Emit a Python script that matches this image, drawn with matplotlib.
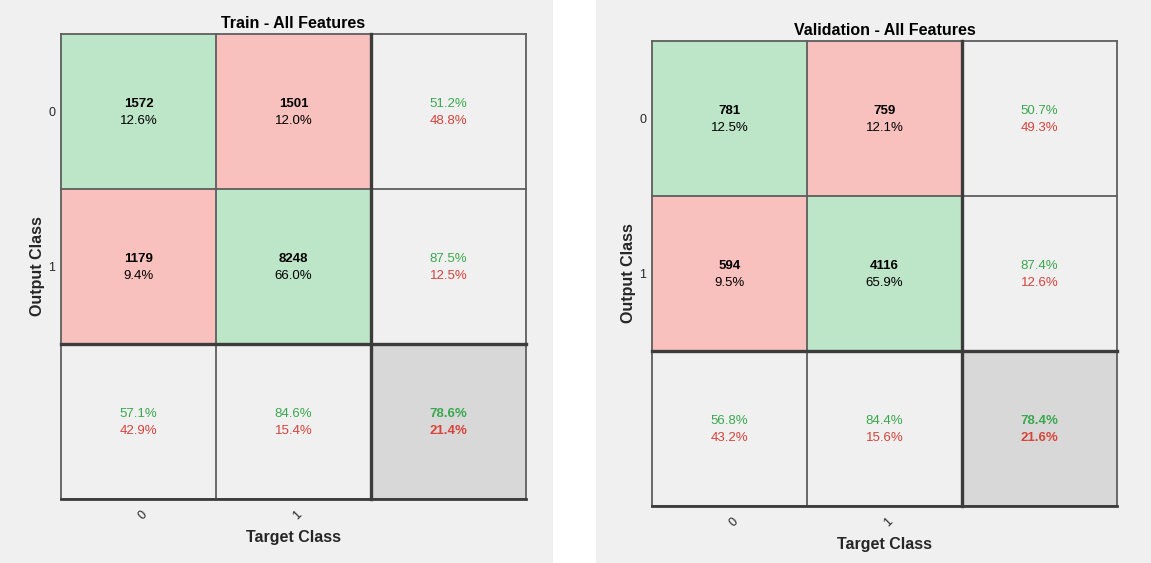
import matplotlib
matplotlib.use("Agg")
import matplotlib.pyplot as plt
from matplotlib.patches import Rectangle
from matplotlib.transforms import ScaledTranslation

plt.rcParams['font.family'] = ['Liberation Sans', 'DejaVu Sans']

class_labels = ["0", "1"]

train_title = "Train - All Features"
train_counts = [[1572, 1501], [1179, 8248]]
train_cell_pct = [["12.6%", "12.0%"], ["9.4%", "66.0%"]]
train_row_pct = [["51.2%", "48.8%"], ["87.5%", "12.5%"]]
train_col_pct = [["57.1%", "42.9%"], ["84.6%", "15.4%"]]
train_total_pct = ["78.6%", "21.4%"]

val_title = "Validation - All Features"
val_counts = [[781, 759], [594, 4116]]
val_cell_pct = [["12.5%", "12.1%"], ["9.5%", "65.9%"]]
val_row_pct = [["50.7%", "49.3%"], ["87.4%", "12.6%"]]
val_col_pct = [["56.8%", "43.2%"], ["84.4%", "15.6%"]]
val_total_pct = ["78.4%", "21.6%"]

W, H = 1151, 563
fig = plt.figure(figsize=(W / 100, H / 100), dpi=100)
fig.patch.set_facecolor("white")

BG = "#f0f0f0"
GREEN_FILL = "#bde5c8"
RED_FILL = "#f8c1be"
TOTAL_FILL = "#d8d8d8"
GREEN_TXT = "#3aa84e"
RED_TXT = "#d8433b"
THIN = "#5e5e5e"
THICK = "#3c3c3c"
CELL_FS = 9.5

# panel backgrounds
fig.patches.append(Rectangle((0, 0), 553 / W, 1, transform=fig.transFigure,
                             facecolor=BG, edgecolor="none", zorder=-10))
fig.patches.append(Rectangle((596 / W, 0), (W - 596) / W, 1, transform=fig.transFigure,
                             facecolor=BG, edgecolor="none", zorder=-10))


def draw(left, top, size, title, counts, cell_pct, row_pct, col_pct, total_pct):
    ax = fig.add_axes([left / W, 1 - (top + size) / H, size / W, size / H])
    ax.set_xlim(0, 3)
    ax.set_ylim(3, 0)
    ax.set_facecolor(BG)
    for s in ax.spines.values():
        s.set_visible(False)
    n = len(counts)
    d1, d2 = 0.05, 0.06
    for i in range(n):
        for j in range(n):
            fc = GREEN_FILL if i == j else RED_FILL
            ax.add_patch(Rectangle((j, i), 1, 1, facecolor=fc, edgecolor="none"))
            ax.text(j + 0.5, i + 0.5 - d1, str(counts[i][j]), ha="center", va="center",
                    fontsize=CELL_FS, fontweight="bold", color="black")
            ax.text(j + 0.5, i + 0.5 + d2, cell_pct[i][j], ha="center", va="center",
                    fontsize=CELL_FS, color="black")
        ax.text(n + 0.5, i + 0.5 - d1, row_pct[i][0], ha="center", va="center",
                fontsize=CELL_FS, color=GREEN_TXT)
        ax.text(n + 0.5, i + 0.5 + d2, row_pct[i][1], ha="center", va="center",
                fontsize=CELL_FS, color=RED_TXT)
        ax.text(i + 0.5, n + 0.5 - d1, col_pct[i][0], ha="center", va="center",
                fontsize=CELL_FS, color=GREEN_TXT)
        ax.text(i + 0.5, n + 0.5 + d2, col_pct[i][1], ha="center", va="center",
                fontsize=CELL_FS, color=RED_TXT)
    ax.add_patch(Rectangle((n, n), 1, 1, facecolor=TOTAL_FILL, edgecolor="none"))
    ax.text(n + 0.5, n + 0.5 - d1, total_pct[0], ha="center", va="center",
            fontsize=CELL_FS, fontweight="bold", color=GREEN_TXT)
    ax.text(n + 0.5, n + 0.5 + d2, total_pct[1], ha="center", va="center",
            fontsize=CELL_FS, fontweight="bold", color=RED_TXT)

    # grid lines
    for k in [0, 1, 3]:
        ax.plot([0, 3], [k, k], color=THIN, lw=1.3, solid_capstyle="projecting", clip_on=False)
        ax.plot([k, k], [0, 3], color=THIN, lw=1.3, solid_capstyle="projecting", clip_on=False)
    ax.plot([0, 3], [2, 2], color=THICK, lw=2.4, solid_capstyle="projecting", clip_on=False)
    ax.plot([2, 2], [0, 3], color=THICK, lw=2.4, solid_capstyle="projecting", clip_on=False)
    ax.plot([0, 3], [3, 3], color=THICK, lw=2.0, solid_capstyle="projecting", clip_on=False)

    ax.set_xticks([0.5, 1.5])
    ax.set_xticklabels(class_labels, rotation=45, fontsize=9, color="#262626")
    ax.set_yticks([0.5, 1.5])
    ax.set_yticklabels(class_labels, fontsize=9, color="#262626")
    ax.tick_params(length=0)
    ax.tick_params(axis="y", pad=4)
    ax.tick_params(axis="x", pad=7)
    shift = ScaledTranslation(4 / 100, 0, fig.dpi_scale_trans)
    for lbl in ax.get_xticklabels():
        lbl.set_transform(lbl.get_transform() + shift)
    ax.set_title(title, fontsize=11.5, fontweight="bold", color="black", pad=4)
    ax.set_xlabel("Target Class", fontsize=11.5, fontweight="bold", color="#262626", labelpad=6)
    ax.set_ylabel("Output Class", fontsize=11.5, fontweight="bold", color="#262626")
    ax.yaxis.set_label_coords(-16 / size, 0.5)
    return ax


draw(61, 34, 465, train_title, train_counts, train_cell_pct, train_row_pct, train_col_pct, train_total_pct)
draw(652, 41, 465, val_title, val_counts, val_cell_pct, val_row_pct, val_col_pct, val_total_pct)

fig.savefig("out.png", dpi=100, facecolor=fig.get_facecolor())
